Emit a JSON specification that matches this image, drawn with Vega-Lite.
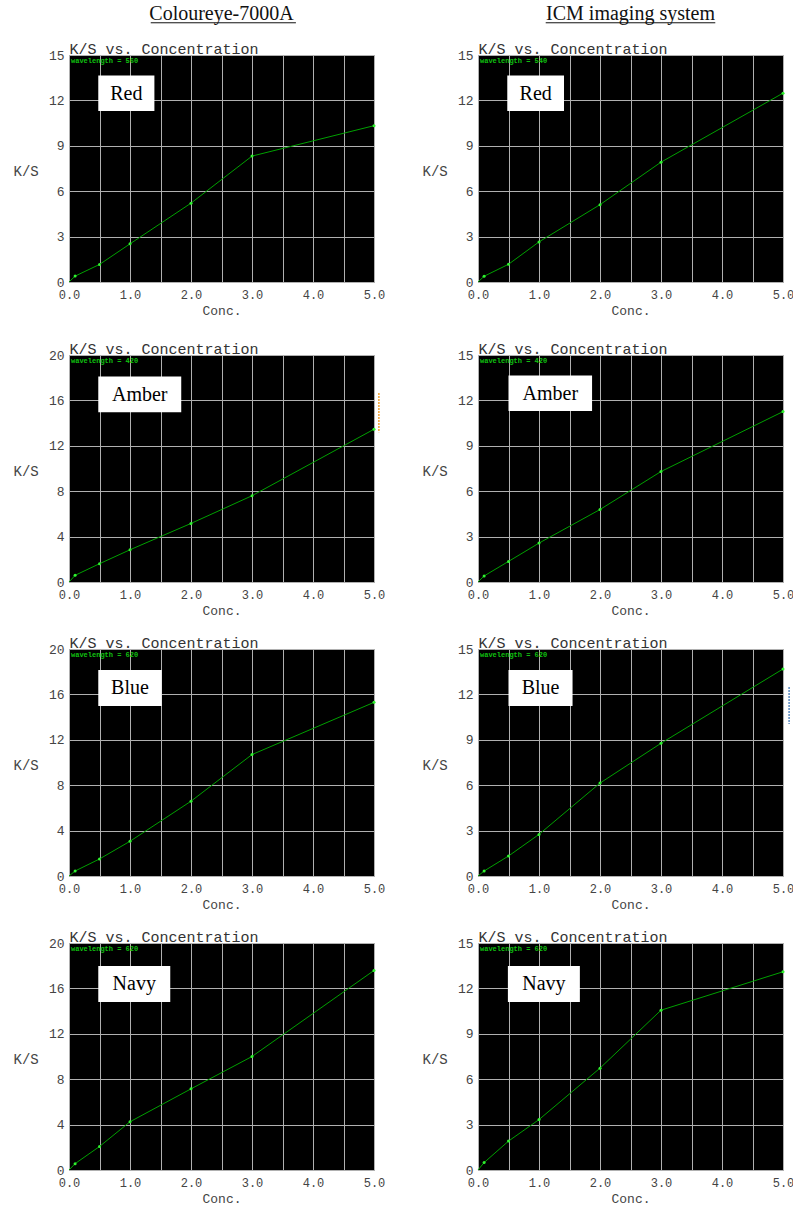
{
  "$schema": "https://vega.github.io/schema/vega-lite/v6.json",
  "background": "white",
  "padding": {"left": 12, "top": 3, "right": 0, "bottom": 0},
  "spacing": 22,
  "datasets": {
    "redL": [{"conc":0,"ks":0},{"conc":0.1,"ks":0.39},{"conc":0.5,"ks":1.16},{"conc":1,"ks":2.52},{"conc":2,"ks":5.21},{"conc":3,"ks":8.32},{"conc":5,"ks":10.33}],
    "redR": [{"conc":0,"ks":0},{"conc":0.1,"ks":0.38},{"conc":0.5,"ks":1.17},{"conc":1,"ks":2.65},{"conc":2,"ks":5.11},{"conc":3,"ks":7.92},{"conc":5,"ks":12.48}],
    "amberL": [{"conc":0,"ks":0},{"conc":0.1,"ks":0.59},{"conc":0.5,"ks":1.61},{"conc":1,"ks":2.84},{"conc":2,"ks":5.16},{"conc":3,"ks":7.6},{"conc":5,"ks":13.46}],
    "amberR": [{"conc":0,"ks":0},{"conc":0.1,"ks":0.4},{"conc":0.5,"ks":1.36},{"conc":1,"ks":2.57},{"conc":2,"ks":4.79},{"conc":3,"ks":7.3},{"conc":5,"ks":11.26}],
    "blueL": [{"conc":0,"ks":0},{"conc":0.1,"ks":0.44},{"conc":0.5,"ks":1.5},{"conc":1,"ks":3.06},{"conc":2,"ks":6.59},{"conc":3,"ks":10.7},{"conc":5,"ks":15.3}],
    "blueR": [{"conc":0,"ks":0},{"conc":0.1,"ks":0.33},{"conc":0.5,"ks":1.32},{"conc":1,"ks":2.75},{"conc":2,"ks":6.14},{"conc":3,"ks":8.77},{"conc":5,"ks":13.68}],
    "navyL": [{"conc":0,"ks":0},{"conc":0.1,"ks":0.56},{"conc":0.5,"ks":2.07},{"conc":1,"ks":4.25},{"conc":2,"ks":7.15},{"conc":3,"ks":10.0},{"conc":5,"ks":17.58}],
    "navyR": [{"conc":0,"ks":0},{"conc":0.1,"ks":0.49},{"conc":0.5,"ks":1.91},{"conc":1,"ks":3.33},{"conc":2,"ks":6.73},{"conc":3,"ks":10.56},{"conc":5,"ks":13.1}]
  },
  "vconcat": [
    {
      "hconcat": [
        {
          "width": 305, "height": 227,
          "title": {"text": "Coloureye-7000A", "frame": "group", "anchor": "middle", "font": "Liberation Serif", "fontSize": 20, "fontWeight": "normal", "color": "#111", "offset": -2},
          "layer": [
            {"data": {"name": "redL"}, "mark": {"type": "line", "color": "#00a000", "strokeWidth": 1},
             "encoding": {
               "x": {"field": "conc", "type": "quantitative", "scale": {"domain": [0, 5], "nice": false}, "axis": {"orient": "bottom", "values": [0,0.5,1,1.5,2,2.5,3,3.5,4,4.5,5], "format": ".1f", "labelExpr": "datum.value % 1 == 0 ? datum.label : ''", "title": "Conc."}},
               "y": {"field": "ks", "type": "quantitative", "scale": {"domain": [0, 15], "nice": false}, "axis": {"orient": "left", "values": [0,1.5,3,4.5,6,7.5,9,10.5,12,13.5,15], "format": "d", "labelExpr": "datum.value % 3 == 0 ? datum.label : ''", "title": "K/S"}}
             }},
            {"data": {"name": "redL"}, "transform": [{"filter": "datum.conc > 0"}], "mark": {"type": "point", "filled": true, "size": 9, "opacity": 1, "color": "#30f030"},
             "encoding": {"x": {"field": "conc", "type": "quantitative", "axis": null}, "y": {"field": "ks", "type": "quantitative"}}},
            {"data": {"values": [{}]}, "mark": {"type": "text", "text": "wavelength = 560", "align": "left", "baseline": "middle", "dx": 2, "dy": 6, "font": "Liberation Mono", "fontSize": 7, "fontWeight": "bold", "color": "#10c010"},
             "encoding": {"x": {"datum": 0, "type": "quantitative", "axis": {"orient": "top", "title": "K/S vs. Concentration", "labels": false, "ticks": false, "domain": false, "grid": false}}, "y": {"datum": 15, "type": "quantitative"}}},
            {"data": {"values": [{}]}, "mark": {"type": "rect", "color": "white"},
             "encoding": {"x": {"datum": 0.48, "type": "quantitative", "axis": null}, "x2": {"datum": 1.4}, "y": {"datum": 13.65, "type": "quantitative"}, "y2": {"datum": 11.3}}},
            {"data": {"values": [{}]}, "mark": {"type": "text", "text": "Red", "font": "Liberation Serif", "fontSize": 20, "color": "black", "baseline": "middle"},
             "encoding": {"x": {"datum": 0.94, "type": "quantitative", "axis": null}, "y": {"datum": 12.45, "type": "quantitative"}}},
            {"data": {"values": [{}]}, "mark": {"type": "rule", "color": "#111", "strokeWidth": 1},
             "encoding": {"x": {"datum": 1.34, "type": "quantitative", "axis": null}, "x2": {"datum": 3.72}, "y": {"datum": 17.13, "type": "quantitative"}}}
          ]
        },
        {
          "width": 305, "height": 227,
          "title": {"text": "ICM imaging system", "frame": "group", "anchor": "middle", "font": "Liberation Serif", "fontSize": 20, "fontWeight": "normal", "color": "#111", "offset": -2},
          "layer": [
            {"data": {"name": "redR"}, "mark": {"type": "line", "color": "#00a000", "strokeWidth": 1},
             "encoding": {
               "x": {"field": "conc", "type": "quantitative", "scale": {"domain": [0, 5], "nice": false}, "axis": {"orient": "bottom", "values": [0,0.5,1,1.5,2,2.5,3,3.5,4,4.5,5], "format": ".1f", "labelExpr": "datum.value % 1 == 0 ? datum.label : ''", "title": "Conc."}},
               "y": {"field": "ks", "type": "quantitative", "scale": {"domain": [0, 15], "nice": false}, "axis": {"orient": "left", "values": [0,1.5,3,4.5,6,7.5,9,10.5,12,13.5,15], "format": "d", "labelExpr": "datum.value % 3 == 0 ? datum.label : ''", "title": "K/S"}}
             }},
            {"data": {"name": "redR"}, "transform": [{"filter": "datum.conc > 0"}], "mark": {"type": "point", "filled": true, "size": 9, "opacity": 1, "color": "#30f030"},
             "encoding": {"x": {"field": "conc", "type": "quantitative", "axis": null}, "y": {"field": "ks", "type": "quantitative"}}},
            {"data": {"values": [{}]}, "mark": {"type": "text", "text": "wavelength = 540", "align": "left", "baseline": "middle", "dx": 2, "dy": 6, "font": "Liberation Mono", "fontSize": 7, "fontWeight": "bold", "color": "#10c010"},
             "encoding": {"x": {"datum": 0, "type": "quantitative", "axis": {"orient": "top", "title": "K/S vs. Concentration", "labels": false, "ticks": false, "domain": false, "grid": false}}, "y": {"datum": 15, "type": "quantitative"}}},
            {"data": {"values": [{}]}, "mark": {"type": "rect", "color": "white"},
             "encoding": {"x": {"datum": 0.48, "type": "quantitative", "axis": null}, "x2": {"datum": 1.41}, "y": {"datum": 13.65, "type": "quantitative"}, "y2": {"datum": 11.3}}},
            {"data": {"values": [{}]}, "mark": {"type": "text", "text": "Red", "font": "Liberation Serif", "fontSize": 20, "color": "black", "baseline": "middle"},
             "encoding": {"x": {"datum": 0.945, "type": "quantitative", "axis": null}, "y": {"datum": 12.45, "type": "quantitative"}}},
            {"data": {"values": [{}]}, "mark": {"type": "rule", "color": "#111", "strokeWidth": 1},
             "encoding": {"x": {"datum": 1.11, "type": "quantitative", "axis": null}, "x2": {"datum": 3.89}, "y": {"datum": 17.13, "type": "quantitative"}}}
          ]
        }
      ],
      "spacing": 104, "bounds": "flush"
    },
    {
      "vconcat": [
        {
          "hconcat": [
            {
              "width": 305, "height": 227,
              "layer": [
                {"data": {"name": "amberL"}, "mark": {"type": "line", "color": "#00a000", "strokeWidth": 1},
                 "encoding": {
                   "x": {"field": "conc", "type": "quantitative", "scale": {"domain": [0, 5], "nice": false}, "axis": {"orient": "bottom", "values": [0,0.5,1,1.5,2,2.5,3,3.5,4,4.5,5], "format": ".1f", "labelExpr": "datum.value % 1 == 0 ? datum.label : ''", "title": "Conc."}},
                   "y": {"field": "ks", "type": "quantitative", "scale": {"domain": [0, 20], "nice": false}, "axis": {"orient": "left", "values": [0,2,4,6,8,10,12,14,16,18,20], "format": "d", "labelExpr": "datum.value % 4 == 0 ? datum.label : ''", "title": "K/S"}}
                 }},
                {"data": {"name": "amberL"}, "transform": [{"filter": "datum.conc > 0"}], "mark": {"type": "point", "filled": true, "size": 9, "opacity": 1, "color": "#30f030"},
                 "encoding": {"x": {"field": "conc", "type": "quantitative", "axis": null}, "y": {"field": "ks", "type": "quantitative"}}},
                {"data": {"values": [{}]}, "mark": {"type": "text", "text": "wavelength = 420", "align": "left", "baseline": "middle", "dx": 2, "dy": 6, "font": "Liberation Mono", "fontSize": 7, "fontWeight": "bold", "color": "#10c010"},
                 "encoding": {"x": {"datum": 0, "type": "quantitative", "axis": {"orient": "top", "title": "K/S vs. Concentration", "labels": false, "ticks": false, "domain": false, "grid": false}}, "y": {"datum": 20, "type": "quantitative"}}},
                {"data": {"values": [{}]}, "mark": {"type": "rect", "color": "white"},
                 "encoding": {"x": {"datum": 0.48, "type": "quantitative", "axis": null}, "x2": {"datum": 1.84}, "y": {"datum": 18.1, "type": "quantitative"}, "y2": {"datum": 14.95}}},
                {"data": {"values": [{}]}, "mark": {"type": "text", "text": "Amber", "font": "Liberation Serif", "fontSize": 20, "color": "black", "baseline": "middle"},
                 "encoding": {"x": {"datum": 1.16, "type": "quantitative", "axis": null}, "y": {"datum": 16.5, "type": "quantitative"}}},
                {"data": {"values": [{}]}, "mark": {"type": "rule", "color": "#f0a030", "strokeWidth": 1.5, "strokeDash": [2, 1]},
                 "encoding": {"x": {"datum": 5.08, "type": "quantitative", "axis": null}, "y": {"datum": 16.65, "type": "quantitative"}, "y2": {"datum": 13.2}}}
              ]
            },
            {
              "width": 305, "height": 227,
              "layer": [
                {"data": {"name": "amberR"}, "mark": {"type": "line", "color": "#00a000", "strokeWidth": 1},
                 "encoding": {
                   "x": {"field": "conc", "type": "quantitative", "scale": {"domain": [0, 5], "nice": false}, "axis": {"orient": "bottom", "values": [0,0.5,1,1.5,2,2.5,3,3.5,4,4.5,5], "format": ".1f", "labelExpr": "datum.value % 1 == 0 ? datum.label : ''", "title": "Conc."}},
                   "y": {"field": "ks", "type": "quantitative", "scale": {"domain": [0, 15], "nice": false}, "axis": {"orient": "left", "values": [0,1.5,3,4.5,6,7.5,9,10.5,12,13.5,15], "format": "d", "labelExpr": "datum.value % 3 == 0 ? datum.label : ''", "title": "K/S"}}
                 }},
                {"data": {"name": "amberR"}, "transform": [{"filter": "datum.conc > 0"}], "mark": {"type": "point", "filled": true, "size": 9, "opacity": 1, "color": "#30f030"},
                 "encoding": {"x": {"field": "conc", "type": "quantitative", "axis": null}, "y": {"field": "ks", "type": "quantitative"}}},
                {"data": {"values": [{}]}, "mark": {"type": "text", "text": "wavelength = 420", "align": "left", "baseline": "middle", "dx": 2, "dy": 6, "font": "Liberation Mono", "fontSize": 7, "fontWeight": "bold", "color": "#10c010"},
                 "encoding": {"x": {"datum": 0, "type": "quantitative", "axis": {"orient": "top", "title": "K/S vs. Concentration", "labels": false, "ticks": false, "domain": false, "grid": false}}, "y": {"datum": 15, "type": "quantitative"}}},
                {"data": {"values": [{}]}, "mark": {"type": "rect", "color": "white"},
                 "encoding": {"x": {"datum": 0.5, "type": "quantitative", "axis": null}, "x2": {"datum": 1.87}, "y": {"datum": 13.65, "type": "quantitative"}, "y2": {"datum": 11.3}}},
                {"data": {"values": [{}]}, "mark": {"type": "text", "text": "Amber", "font": "Liberation Serif", "fontSize": 20, "color": "black", "baseline": "middle"},
                 "encoding": {"x": {"datum": 1.185, "type": "quantitative", "axis": null}, "y": {"datum": 12.45, "type": "quantitative"}}}
              ]
            }
          ],
          "spacing": 104, "bounds": "flush"
        },
        {
          "hconcat": [
            {
              "width": 305, "height": 227,
              "layer": [
                {"data": {"name": "blueL"}, "mark": {"type": "line", "color": "#00a000", "strokeWidth": 1},
                 "encoding": {
                   "x": {"field": "conc", "type": "quantitative", "scale": {"domain": [0, 5], "nice": false}, "axis": {"orient": "bottom", "values": [0,0.5,1,1.5,2,2.5,3,3.5,4,4.5,5], "format": ".1f", "labelExpr": "datum.value % 1 == 0 ? datum.label : ''", "title": "Conc."}},
                   "y": {"field": "ks", "type": "quantitative", "scale": {"domain": [0, 20], "nice": false}, "axis": {"orient": "left", "values": [0,2,4,6,8,10,12,14,16,18,20], "format": "d", "labelExpr": "datum.value % 4 == 0 ? datum.label : ''", "title": "K/S"}}
                 }},
                {"data": {"name": "blueL"}, "transform": [{"filter": "datum.conc > 0"}], "mark": {"type": "point", "filled": true, "size": 9, "opacity": 1, "color": "#30f030"},
                 "encoding": {"x": {"field": "conc", "type": "quantitative", "axis": null}, "y": {"field": "ks", "type": "quantitative"}}},
                {"data": {"values": [{}]}, "mark": {"type": "text", "text": "wavelength = 620", "align": "left", "baseline": "middle", "dx": 2, "dy": 6, "font": "Liberation Mono", "fontSize": 7, "fontWeight": "bold", "color": "#10c010"},
                 "encoding": {"x": {"datum": 0, "type": "quantitative", "axis": {"orient": "top", "title": "K/S vs. Concentration", "labels": false, "ticks": false, "domain": false, "grid": false}}, "y": {"datum": 20, "type": "quantitative"}}},
                {"data": {"values": [{}]}, "mark": {"type": "rect", "color": "white"},
                 "encoding": {"x": {"datum": 0.48, "type": "quantitative", "axis": null}, "x2": {"datum": 1.52}, "y": {"datum": 18.15, "type": "quantitative"}, "y2": {"datum": 14.98}}},
                {"data": {"values": [{}]}, "mark": {"type": "text", "text": "Blue", "font": "Liberation Serif", "fontSize": 20, "color": "black", "baseline": "middle"},
                 "encoding": {"x": {"datum": 1.0, "type": "quantitative", "axis": null}, "y": {"datum": 16.55, "type": "quantitative"}}}
              ]
            },
            {
              "width": 305, "height": 227,
              "layer": [
                {"data": {"name": "blueR"}, "mark": {"type": "line", "color": "#00a000", "strokeWidth": 1},
                 "encoding": {
                   "x": {"field": "conc", "type": "quantitative", "scale": {"domain": [0, 5], "nice": false}, "axis": {"orient": "bottom", "values": [0,0.5,1,1.5,2,2.5,3,3.5,4,4.5,5], "format": ".1f", "labelExpr": "datum.value % 1 == 0 ? datum.label : ''", "title": "Conc."}},
                   "y": {"field": "ks", "type": "quantitative", "scale": {"domain": [0, 15], "nice": false}, "axis": {"orient": "left", "values": [0,1.5,3,4.5,6,7.5,9,10.5,12,13.5,15], "format": "d", "labelExpr": "datum.value % 3 == 0 ? datum.label : ''", "title": "K/S"}}
                 }},
                {"data": {"name": "blueR"}, "transform": [{"filter": "datum.conc > 0"}], "mark": {"type": "point", "filled": true, "size": 9, "opacity": 1, "color": "#30f030"},
                 "encoding": {"x": {"field": "conc", "type": "quantitative", "axis": null}, "y": {"field": "ks", "type": "quantitative"}}},
                {"data": {"values": [{}]}, "mark": {"type": "text", "text": "wavelength = 620", "align": "left", "baseline": "middle", "dx": 2, "dy": 6, "font": "Liberation Mono", "fontSize": 7, "fontWeight": "bold", "color": "#10c010"},
                 "encoding": {"x": {"datum": 0, "type": "quantitative", "axis": {"orient": "top", "title": "K/S vs. Concentration", "labels": false, "ticks": false, "domain": false, "grid": false}}, "y": {"datum": 15, "type": "quantitative"}}},
                {"data": {"values": [{}]}, "mark": {"type": "rect", "color": "white"},
                 "encoding": {"x": {"datum": 0.5, "type": "quantitative", "axis": null}, "x2": {"datum": 1.55}, "y": {"datum": 13.61, "type": "quantitative"}, "y2": {"datum": 11.23}}},
                {"data": {"values": [{}]}, "mark": {"type": "text", "text": "Blue", "font": "Liberation Serif", "fontSize": 20, "color": "black", "baseline": "middle"},
                 "encoding": {"x": {"datum": 1.025, "type": "quantitative", "axis": null}, "y": {"datum": 12.42, "type": "quantitative"}}},
                {"data": {"values": [{}]}, "mark": {"type": "rule", "color": "#5a8ac0", "strokeWidth": 1.5, "strokeDash": [2, 1]},
                 "encoding": {"x": {"datum": 5.1, "type": "quantitative", "axis": null}, "y": {"datum": 12.49, "type": "quantitative"}, "y2": {"datum": 10.04}}}
              ]
            }
          ],
          "spacing": 104, "bounds": "flush"
        },
        {
          "hconcat": [
            {
              "width": 305, "height": 227,
              "layer": [
                {"data": {"name": "navyL"}, "mark": {"type": "line", "color": "#00a000", "strokeWidth": 1},
                 "encoding": {
                   "x": {"field": "conc", "type": "quantitative", "scale": {"domain": [0, 5], "nice": false}, "axis": {"orient": "bottom", "values": [0,0.5,1,1.5,2,2.5,3,3.5,4,4.5,5], "format": ".1f", "labelExpr": "datum.value % 1 == 0 ? datum.label : ''", "title": "Conc."}},
                   "y": {"field": "ks", "type": "quantitative", "scale": {"domain": [0, 20], "nice": false}, "axis": {"orient": "left", "values": [0,2,4,6,8,10,12,14,16,18,20], "format": "d", "labelExpr": "datum.value % 4 == 0 ? datum.label : ''", "title": "K/S"}}
                 }},
                {"data": {"name": "navyL"}, "transform": [{"filter": "datum.conc > 0"}], "mark": {"type": "point", "filled": true, "size": 9, "opacity": 1, "color": "#30f030"},
                 "encoding": {"x": {"field": "conc", "type": "quantitative", "axis": null}, "y": {"field": "ks", "type": "quantitative"}}},
                {"data": {"values": [{}]}, "mark": {"type": "text", "text": "wavelength = 620", "align": "left", "baseline": "middle", "dx": 2, "dy": 6, "font": "Liberation Mono", "fontSize": 7, "fontWeight": "bold", "color": "#10c010"},
                 "encoding": {"x": {"datum": 0, "type": "quantitative", "axis": {"orient": "top", "title": "K/S vs. Concentration", "labels": false, "ticks": false, "domain": false, "grid": false}}, "y": {"datum": 20, "type": "quantitative"}}},
                {"data": {"values": [{}]}, "mark": {"type": "rect", "color": "white"},
                 "encoding": {"x": {"datum": 0.48, "type": "quantitative", "axis": null}, "x2": {"datum": 1.66}, "y": {"datum": 17.97, "type": "quantitative"}, "y2": {"datum": 14.8}}},
                {"data": {"values": [{}]}, "mark": {"type": "text", "text": "Navy", "font": "Liberation Serif", "fontSize": 20, "color": "black", "baseline": "middle"},
                 "encoding": {"x": {"datum": 1.07, "type": "quantitative", "axis": null}, "y": {"datum": 16.4, "type": "quantitative"}}}
              ]
            },
            {
              "width": 305, "height": 227,
              "layer": [
                {"data": {"name": "navyR"}, "mark": {"type": "line", "color": "#00a000", "strokeWidth": 1},
                 "encoding": {
                   "x": {"field": "conc", "type": "quantitative", "scale": {"domain": [0, 5], "nice": false}, "axis": {"orient": "bottom", "values": [0,0.5,1,1.5,2,2.5,3,3.5,4,4.5,5], "format": ".1f", "labelExpr": "datum.value % 1 == 0 ? datum.label : ''", "title": "Conc."}},
                   "y": {"field": "ks", "type": "quantitative", "scale": {"domain": [0, 15], "nice": false}, "axis": {"orient": "left", "values": [0,1.5,3,4.5,6,7.5,9,10.5,12,13.5,15], "format": "d", "labelExpr": "datum.value % 3 == 0 ? datum.label : ''", "title": "K/S"}}
                 }},
                {"data": {"name": "navyR"}, "transform": [{"filter": "datum.conc > 0"}], "mark": {"type": "point", "filled": true, "size": 9, "opacity": 1, "color": "#30f030"},
                 "encoding": {"x": {"field": "conc", "type": "quantitative", "axis": null}, "y": {"field": "ks", "type": "quantitative"}}},
                {"data": {"values": [{}]}, "mark": {"type": "text", "text": "wavelength = 620", "align": "left", "baseline": "middle", "dx": 2, "dy": 6, "font": "Liberation Mono", "fontSize": 7, "fontWeight": "bold", "color": "#10c010"},
                 "encoding": {"x": {"datum": 0, "type": "quantitative", "axis": {"orient": "top", "title": "K/S vs. Concentration", "labels": false, "ticks": false, "domain": false, "grid": false}}, "y": {"datum": 15, "type": "quantitative"}}},
                {"data": {"values": [{}]}, "mark": {"type": "rect", "color": "white"},
                 "encoding": {"x": {"datum": 0.49, "type": "quantitative", "axis": null}, "x2": {"datum": 1.67}, "y": {"datum": 13.48, "type": "quantitative"}, "y2": {"datum": 11.1}}},
                {"data": {"values": [{}]}, "mark": {"type": "text", "text": "Navy", "font": "Liberation Serif", "fontSize": 20, "color": "black", "baseline": "middle"},
                 "encoding": {"x": {"datum": 1.08, "type": "quantitative", "axis": null}, "y": {"datum": 12.29, "type": "quantitative"}}}
              ]
            }
          ],
          "spacing": 104, "bounds": "flush"
        }
      ],
      "spacing": 16
    }
  ],
  "config": {
    "view": {"fill": "black", "stroke": "#a8a8a8", "strokeWidth": 1},
    "axis": {
      "labelFont": "Liberation Mono", "labelFontSize": 13, "labelColor": "#444",
      "titleFont": "Liberation Mono", "titleFontSize": 14, "titleFontWeight": "normal", "titleColor": "#444",
      "ticks": false, "domain": false, "labelFlush": false, "labelOverlap": false,
      "gridColor": "#b0b0b0", "gridOpacity": 1, "gridWidth": 1
    },
    "axisBottom": {"labelPadding": 7, "labelFontSize": 12, "titlePadding": 4, "titleFontSize": 13},
    "axisLeft": {"labelPadding": 5, "titleAngle": 0, "titleAlign": "left", "titleBaseline": "middle", "titleX": -56, "titleY": 116},
    "axisTop": {"titleAnchor": "start", "titleAlign": "left", "titleBaseline": "alphabetic", "titlePadding": 2, "titleFontSize": 15, "titleColor": "#333"}
  }
}
